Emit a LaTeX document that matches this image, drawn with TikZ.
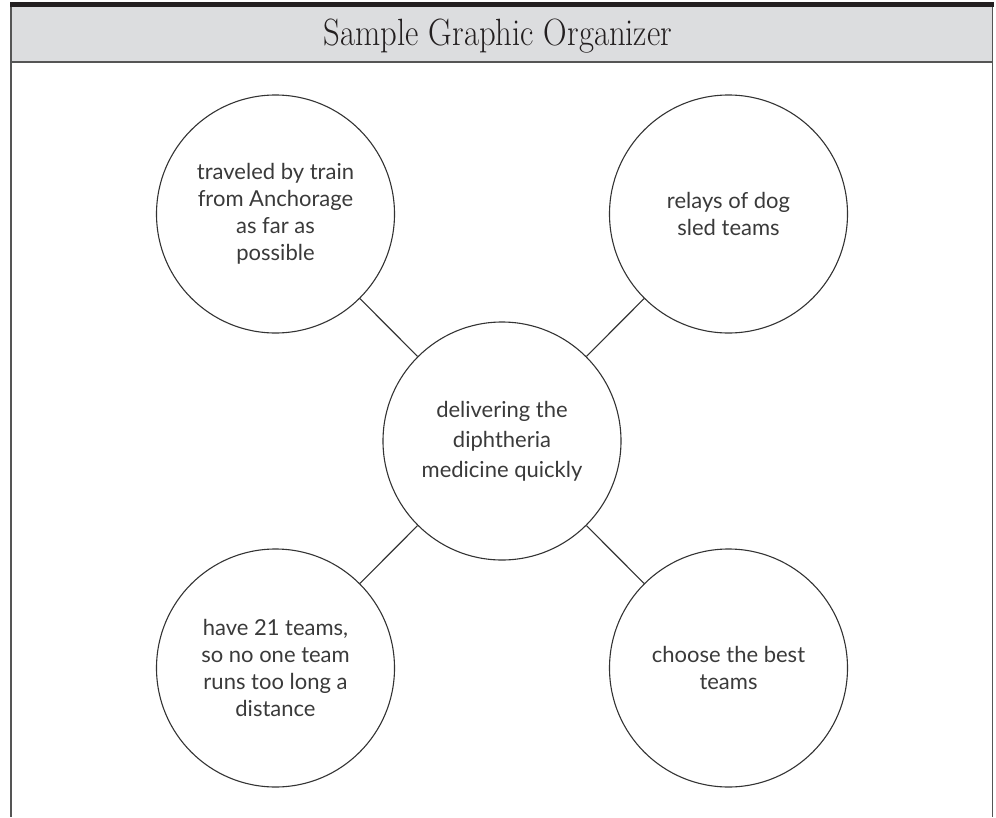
\documentclass[tikz,border=0pt]{standalone}
\usepackage{fontspec}
\usepackage{graphicx}
\setmainfont{Lato}
\newfontfamily\titlefont{Latin Modern Roman}
\definecolor{barblack}{HTML}{231F20}
\definecolor{headgrey}{HTML}{DCDDDF}
\definecolor{rulegrey}{HTML}{555555}
\definecolor{inkgrey}{HTML}{333333}
\definecolor{textgrey}{HTML}{3A3A3A}
\tikzset{
  bubble/.style={circle,draw=inkgrey,line width=1.1pt,minimum size=238pt,inner sep=0pt,
    align=center,text=textgrey,font=\fontsize{22pt}{27pt}\selectfont},
  hub/.style={bubble,font=\fontsize{22pt}{30pt}\selectfont},
  link/.style={draw=inkgrey,line width=1.1pt}
}
\begin{document}
\begin{tikzpicture}[x=1pt,y=-1pt]
\useasboundingbox (0,0) rectangle (996,817);
% frame
\fill[headgrey] (10,7) rectangle (993,62);
\fill[barblack] (10,1.7) rectangle (994,7.3);
\draw[rulegrey,line width=2pt] (10,62.3) -- (993,62.3);
\draw[rulegrey,line width=1.6pt] (10.8,7) -- (10.8,817);
\draw[rulegrey,line width=1.6pt] (992.4,7) -- (992.4,817);
\node[text=barblack] (title) at (498,36) {\scalebox{0.86}[1]{\titlefont\fontsize{38pt}{38pt}\selectfont Sample Graphic Organizer}};
% bubbles
\node[hub] (c)  at (502,441) {delivering the\\diphtheria\\medicine quickly};
\node[bubble] (tl) at (275.5,214) {traveled by train\\from Anchorage\\as far as\\possible};
\node[bubble] (tr) at (728.5,214) {relays of dog\\sled teams};
\node[bubble] (bl) at (275.5,668) {have 21 teams,\\so no one team\\runs too long a\\distance};
\node[bubble] (br) at (728.5,668) {choose the best\\teams};
% connectors
\draw[link] (c) -- (tl);
\draw[link] (c) -- (tr);
\draw[link] (c) -- (bl);
\draw[link] (c) -- (br);
\end{tikzpicture}
\end{document}
